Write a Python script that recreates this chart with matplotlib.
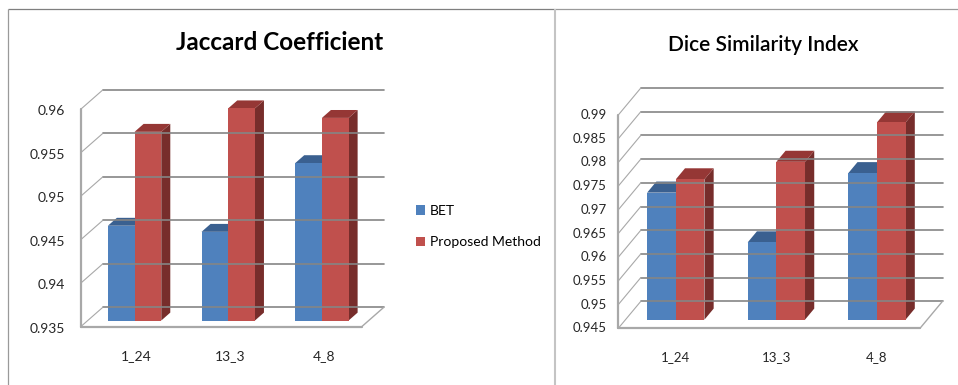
import matplotlib
matplotlib.use("Agg")
import matplotlib.pyplot as plt
from matplotlib.patches import Polygon, Patch
from matplotlib.lines import Line2D

plt.rcParams["font.family"] = ["Lato", "DejaVu Sans"]

W, H = 958, 385

# ---- data ----
categories = ["1_24", "13_3", "4_8"]
series_names = ["BET", "Proposed Method"]

jaccard_bet = [0.9459, 0.9452, 0.9531]
jaccard_proposed = [0.9567, 0.9594, 0.9583]
jaccard_ticks = [0.935, 0.94, 0.945, 0.95, 0.955, 0.96]
jaccard_tick_labels = ["0.935", "0.94", "0.945", "0.95", "0.955", "0.96"]

dice_bet = [0.9718, 0.9613, 0.9759]
dice_proposed = [0.9746, 0.9783, 0.9866]
dice_ticks = [0.945, 0.95, 0.955, 0.96, 0.965, 0.97, 0.975, 0.98, 0.985, 0.99]
dice_tick_labels = ["0.945", "0.95", "0.955", "0.96", "0.965",
                    "0.97", "0.975", "0.98", "0.985", "0.99"]

# ---- styling ----
BLUE = {"front": "#4F81BD", "top": "#3A6090", "side": "#2E4C72"}
RED = {"front": "#C0504D", "top": "#953735", "side": "#772D2B"}
GRID = "#858585"
WALL = "#a8a8a8"

fig = plt.figure(figsize=(W / 100, H / 100), dpi=100)
fig.patch.set_facecolor("white")


def px(x, y):
    """Pixel position (origin top-left) -> figure fraction."""
    return x / W, 1 - y / H


def fig_line(x0, y0, x1, y1, color, lw):
    a, b = px(x0, y0)
    c, d = px(x1, y1)
    fig.add_artist(Line2D([a, c], [b, d], color=color, lw=lw,
                          transform=fig.transFigure, solid_capstyle="butt"))


def chart3d(box, vmin, vmax, ticks, tick_labels, bet, proposed, depth_px,
            tick_gap, tick_dy, cat_dx, cat_dy, font, fsize):
    """Column chart with an oblique 3-D look.

    box = (left, right, bottom_row, top_row) of the front plane in pixels.
    depth_px = (dx, dy) pixel shift from the front plane to the back wall.
    """
    left, right, y_lo, y_hi = box
    ax = fig.add_axes([left / W, 1 - y_lo / H, (right - left) / W, (y_lo - y_hi) / H])
    ncat = len(categories)
    ax.set_xlim(0, ncat)
    ax.set_ylim(vmin, vmax)
    ax.set_axis_off()

    kx = depth_px[0] / ((right - left) / ncat)
    ky = depth_px[1] / ((y_lo - y_hi) / (vmax - vmin))

    def P(x, v, d):
        return (x + d * kx, v + d * ky)

    def seg(p, q, color, lw):
        ax.add_line(Line2D([p[0], q[0]], [p[1], q[1]], color=color, lw=lw,
                           clip_on=False, solid_capstyle="round"))

    # walls and floor
    for t in ticks:
        seg(P(0, t, 1), P(ncat, t, 1), GRID, 1.2)
        seg(P(0, t, 0), P(0, t, 1), WALL, 0.8)
    seg(P(0, vmin, 0), P(0, vmax, 0), WALL, 1.6)
    seg(P(0, vmin, 0), P(ncat, vmin, 0), WALL, 1.6)
    seg(P(ncat, vmin, 0), P(ncat, vmin, 1), WALL, 1.0)

    # bars
    d0, d1 = 0.32, 0.73
    bw = 0.285
    for i in range(ncat):
        xc = i + 0.5
        for xa, val, col in ((xc - bw, bet[i], BLUE), (xc, proposed[i], RED)):
            xb = xa + bw
            faces = [
                ([P(xb, vmin, d0), P(xb, vmin, d1), P(xb, val, d1), P(xb, val, d0)], col["side"]),
                ([P(xa, val, d0), P(xb, val, d0), P(xb, val, d1), P(xa, val, d1)], col["top"]),
                ([P(xa, vmin, d0), P(xb, vmin, d0), P(xb, val, d0), P(xa, val, d0)], col["front"]),
            ]
            for verts, fc in faces:
                ax.add_patch(Polygon(verts, closed=True, facecolor=fc,
                                     edgecolor="none", clip_on=False))

    # value axis labels
    for t, lab in zip(ticks, tick_labels):
        ax.annotate(lab, (0, t), xytext=(-tick_gap, -tick_dy), textcoords="offset pixels",
                    ha="right", va="center", fontsize=fsize, family=font,
                    color="#262626", annotation_clip=False)

    # category labels
    for i, lab in enumerate(categories):
        ax.annotate(lab, (i + 0.5, vmin), xytext=(cat_dx, -cat_dy), textcoords="offset pixels",
                    ha="center", va="center", fontsize=fsize, family=font,
                    color="#262626", annotation_clip=False)
    return ax


main_font = ["Lato", "DejaVu Sans"]

chart3d((80.7, 361.7, 326.7, 109.3), 0.935, 0.96, jaccard_ticks, jaccard_tick_labels,
        jaccard_bet, jaccard_proposed, (22, 19.3),
        tick_gap=15.5, tick_dy=2, cat_dx=9, cat_dy=29, font=main_font, fsize=10)

chart3d((618.3, 920, 328.3, 115), 0.945, 0.99, dice_ticks, dice_tick_labels,
        dice_bet, dice_proposed, (22.5, 27),
        tick_gap=11.5, tick_dy=0, cat_dx=7, cat_dy=28.5, font=main_font, fsize=9.5)

# titles
x, y = px(280, 43)
fig.text(x, y, "Jaccard Coefficient", ha="center", va="center", fontsize=17.5,
         weight="bold", family=main_font, color="black")
x, y = px(763, 45)
fig.text(x, y, "Dice Similarity Index", ha="center", va="center", fontsize=15,
         weight="semibold", family=main_font, color="black")

# legend
x, y = px(416, 205)
fig.legend(handles=[Patch(facecolor=BLUE["front"]), Patch(facecolor=RED["front"])],
           labels=series_names, loc="upper left", bbox_to_anchor=(x, y),
           frameon=False, handlelength=0.65, handleheight=0.65,
           handletextpad=0.35, labelspacing=1.4, borderpad=0, borderaxespad=0,
           prop={"family": main_font, "size": 10})

# panel borders
fig_line(8, 9.3, 555, 9.3, "#7f7f7f", 0.9)
fig_line(555, 9.3, 958, 9.3, "#9a9a9a", 0.9)
fig_line(8, 9.3, 8, 385, "#9a9a9a", 0.9)
fig_line(555, 9.3, 555, 385, "#c4c4c4", 1.5)

fig.savefig("out.png", dpi=100, facecolor="white")
